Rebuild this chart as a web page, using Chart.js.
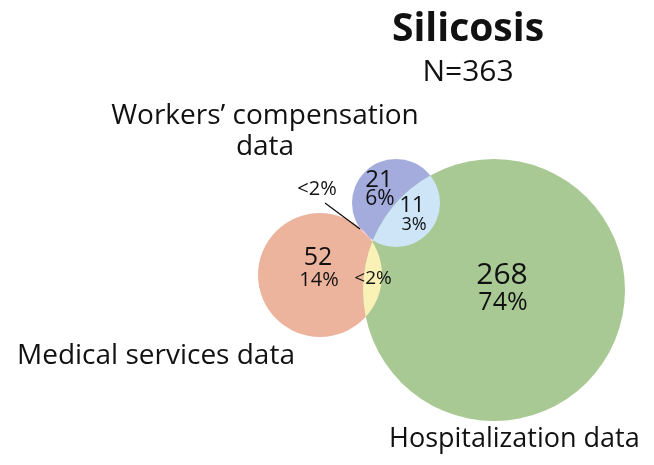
<!DOCTYPE html>
<html>
<head>
<meta charset="utf-8">
<script src="https://cdn.jsdelivr.net/npm/chart.js@4"></script>
<style>
  body{margin:0;background:#fff;}
  canvas{display:block;}
</style>
</head>
<body>
<canvas id="venn" width="654" height="465"></canvas>
<script>
// sets in the diagram
const setNames=["Workers’ compensation data","Medical services data","Hospitalization data"];
const setColors=["#a3acdd","#ecb49c","#a9c994"];

// region counts / shares
const regionCounts=["21","11","52","268","",""];
const regionShares=["6%","3%","14%","74%","<2%","<2%"];

// overlaps: [setA, setB, colour]
const overlaps=[[0,2,"#cde5f6"],[1,2,"#faf1b6"],[0,1,"#f3d6dc"]];

// layout of the circles (canvas pixels)
const circleX=[396,320,494];
const circleY=[203,275,290];
const circleR=[44,62,131];

const font="'Open Sans', 'Noto Sans', sans-serif";

const textPlugin={
  id:"vennText",
  afterDatasetsDraw(chart){
    const ctx=chart.ctx;
    const pts=chart.getDatasetMeta(0).data;
    // overlap regions
    overlaps.forEach(o=>{
      const a=pts[o[0]], b=pts[o[1]];
      ctx.save();
      ctx.beginPath();
      ctx.arc(a.x,a.y,a.options.radius,0,Math.PI*2);
      ctx.clip();
      ctx.beginPath();
      ctx.arc(b.x,b.y,b.options.radius,0,Math.PI*2);
      ctx.fillStyle=o[2];
      ctx.fill();
      ctx.restore();
    });

    ctx.save();
    ctx.fillStyle="#111";
    ctx.textAlign="center";
    ctx.textBaseline="middle";
    function t(s,x,y,size,bold){
      ctx.font=(bold?"bold ":"")+size+"px "+font;
      ctx.fillText(s,x,y);
    }
    t("Silicosis",468,30,39,true);
    t("N=363",468,72,30);
    t("Workers’ compensation",265,116,28);
    t("data",265,147,28);
    ctx.textAlign="left";
    t("Medical services data",17,356,28);
    t("Hospitalization data",389,439,27);
    ctx.textAlign="center";

    t(regionCounts[0],379,180,24);
    t(regionShares[0],380,199,21);
    t(regionCounts[1],412,206,22);
    t(regionShares[1],414,225,18);
    t(regionCounts[2],318,258,25);
    t(regionShares[2],319,280,20);
    t(regionCounts[3],502,275,30);
    t(regionShares[3],503,303,25);
    t(regionShares[4],373,279,19);
    t(regionShares[5],317,189,20);

    ctx.strokeStyle="#111";
    ctx.lineWidth=1.3;
    ctx.beginPath();
    ctx.moveTo(325,203);
    ctx.lineTo(360,229);
    ctx.stroke();
    ctx.restore();
  }
};

new Chart(document.getElementById("venn"),{
  type:"bubble",
  data:{
    labels:setNames,
    datasets:[{
      data:circleX.map((x,i)=>({x:x,y:circleY[i],r:circleR[i]})),
      backgroundColor:setColors,
      borderWidth:0,
      clip:false
    }]
  },
  options:{
    responsive:false,
    devicePixelRatio:1,
    animation:false,
    events:[],
    layout:{padding:0,autoPadding:false},
    scales:{
      x:{type:"linear",min:0,max:654,display:false},
      y:{type:"linear",min:0,max:465,reverse:true,display:false}
    },
    plugins:{legend:{display:false},tooltip:{enabled:false}}
  },
  plugins:[textPlugin]
});
</script>
</body>
</html>
